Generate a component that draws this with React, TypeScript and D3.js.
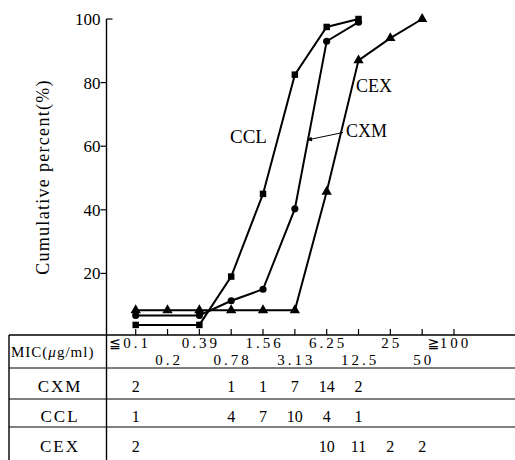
import React from "react";
import * as d3 from "d3";

const categories = ["0.1", "0.2", "0.39", "0.78", "1.56", "3.13", "6.25", "12.5", "25", "50", "100"];
const categoryPrefix = ["≦", "", "", "", "", "", "", "", "", "", "≧"];
const yTicks = [20, 40, 60, 80, 100];

const cclCats = ["0.1", "0.39", "0.78", "1.56", "3.13", "6.25", "12.5"];
const cclValues = [3.8, 3.8, 19, 45, 82.5, 97.5, 100];
const cxmCats = ["0.1", "0.39", "0.78", "1.56", "3.13", "6.25", "12.5"];
const cxmValues = [6.8, 6.8, 11.4, 15, 40.3, 93, 99];
const cexCats = ["0.1", "0.2", "0.39", "0.78", "1.56", "3.13", "6.25", "12.5", "25", "50"];
const cexValues = [8.4, 8.4, 8.4, 8.4, 8.4, 8.4, 45.7, 87, 94, 100];

const rowNames = ["CXM", "CCL", "CEX"];
const cxmCounts = [2, null, null, 1, 1, 7, 14, 2, null, null, null];
const cclCounts = [1, null, null, 4, 7, 10, 4, 1, null, null, null];
const cexCounts = [2, null, null, null, null, null, 10, 11, 2, 2, null];

const W = 515;
const H = 460;
const FONT = "Liberation Serif, Tinos, serif";

export default function App() {
  const x = d3.scalePoint<string>().domain(categories).range([135.7, 454]);
  const y = d3.scaleLinear().domain([0, 100]).range([337, 19]);
  const axisX = 106.5;
  const tableTop = 335;
  const rowLines = [368, 399, 427];
  const tableLeft = 9;

  const series = [
    { name: "CCL", cats: cclCats, values: cclValues, symbol: d3.symbolSquare, size: 42 },
    { name: "CXM", cats: cxmCats, values: cxmValues, symbol: d3.symbolCircle, size: 40 },
    { name: "CEX", cats: cexCats, values: cexValues, symbol: d3.symbolTriangle, size: 46 },
  ];
  const line = d3
    .line<[number, number]>()
    .x((d) => d[0])
    .y((d) => d[1]);

  const counts = [cxmCounts, cclCounts, cexCounts];
  const rowBaselines = [392, 422, 452];
  const ff = { fontFamily: FONT };

  return (
    <svg
      width={W}
      height={H}
      style={{ position: "absolute", left: 0, top: 0, background: "#fff" }}
    >
      <rect x={0} y={0} width={W} height={H} fill="#fff" />
      {/* y axis */}
      <line x1={axisX} x2={axisX} y1={y(100)} y2={H} stroke="#000" strokeWidth={1.4} />
      <line x1={axisX} x2={axisX + 6} y1={y(100)} y2={y(100)} stroke="#000" strokeWidth={1.2} />
      {yTicks.map((t) => (
        <g key={t}>
          {t !== 100 && (
            <line x1={axisX - 6} x2={axisX} y1={y(t)} y2={y(t)} stroke="#000" strokeWidth={1.2} />
          )}
          <text x={axisX - 6} y={y(t)} dy="0.35em" textAnchor="end" fontSize={17} style={ff}>
            {t}
          </text>
        </g>
      ))}
      <text
        transform={`translate(49,177) rotate(-90)`}
        textAnchor="middle"
        fontSize={18}
        letterSpacing={1.3}
        style={ff}
      >
        Cumulative percent(%)
      </text>

      {/* x ticks */}
      {categories.map((c) => (
        <line key={c} x1={x(c)} x2={x(c)} y1={tableTop} y2={tableTop - 6} stroke="#000" strokeWidth={1.2} />
      ))}

      {/* series */}
      {series.map((s) => {
        const pts: [number, number][] = s.cats.map((c, i) => [x(c) as number, y(s.values[i])]);
        const sym = d3.symbol().type(s.symbol).size(s.size)();
        return (
          <g key={s.name}>
            <path d={line(pts) || ""} fill="none" stroke="#000" strokeWidth={2} />
            {pts.map((p, i) => (
              <path key={i} d={sym || ""} transform={`translate(${p[0]},${p[1]})`} fill="#000" />
            ))}
          </g>
        );
      })}

      {/* annotations */}
      <text x={230} y={143} fontSize={19} style={ff}>CCL</text>
      <text x={346} y={137} fontSize={18} style={ff}>CXM</text>
      <text x={356} y={92} fontSize={18} style={ff}>CEX</text>
      <defs>
        <marker id="arr" viewBox="0 0 10 10" refX={10} refY={5} markerWidth={7} markerHeight={5} orient="auto">
          <path d="M0,0 L10,5 L0,10 z" fill="#000" />
        </marker>
      </defs>
      <line x1={343} y1={132.5} x2={307} y2={140} stroke="#000" strokeWidth={1} markerEnd="url(#arr)" />

      {/* table */}
      <line x1={tableLeft} x2={W} y1={tableTop} y2={tableTop} stroke="#000" strokeWidth={1.4} />
      {rowLines.map((ry) => (
        <line key={ry} x1={tableLeft} x2={W} y1={ry} y2={ry} stroke="#000" strokeWidth={1} />
      ))}
      <line x1={tableLeft} x2={tableLeft} y1={tableTop} y2={H} stroke="#000" strokeWidth={1.4} />

      <text x={11} y={357} fontSize={15} letterSpacing={1} style={ff}>
        MIC(<tspan fontStyle="italic">μ</tspan>g/ml)
      </text>
      {categories.map((c, i) => {
        const top = i % 2 === 0;
        const by = top ? 348 : 365;
        return (
          <g key={c}>
            <text x={(x(c) as number) + 1.5} y={by} textAnchor="middle" fontSize={15} letterSpacing={3} style={ff}>
              {c}
            </text>
            {categoryPrefix[i] && (
              <text
                x={(x(c) as number) - c.length * 5.2 + 1}
                y={by}
                textAnchor="end"
                fontSize={14}
                style={{ fontFamily: "DejaVu Sans, sans-serif" }}
              >
                {categoryPrefix[i]}
              </text>
            )}
          </g>
        );
      })}

      {rowNames.map((r, ri) => (
        <g key={r}>
          <text x={60} y={rowBaselines[ri]} textAnchor="middle" fontSize={17} letterSpacing={2} style={ff}>
            {r}
          </text>
          {counts[ri].map((v, ci) =>
            v == null ? null : (
              <text key={ci} x={x(categories[ci])} y={rowBaselines[ri]} textAnchor="middle" fontSize={16} style={ff}>
                {v}
              </text>
            )
          )}
        </g>
      ))}
    </svg>
  );
}
